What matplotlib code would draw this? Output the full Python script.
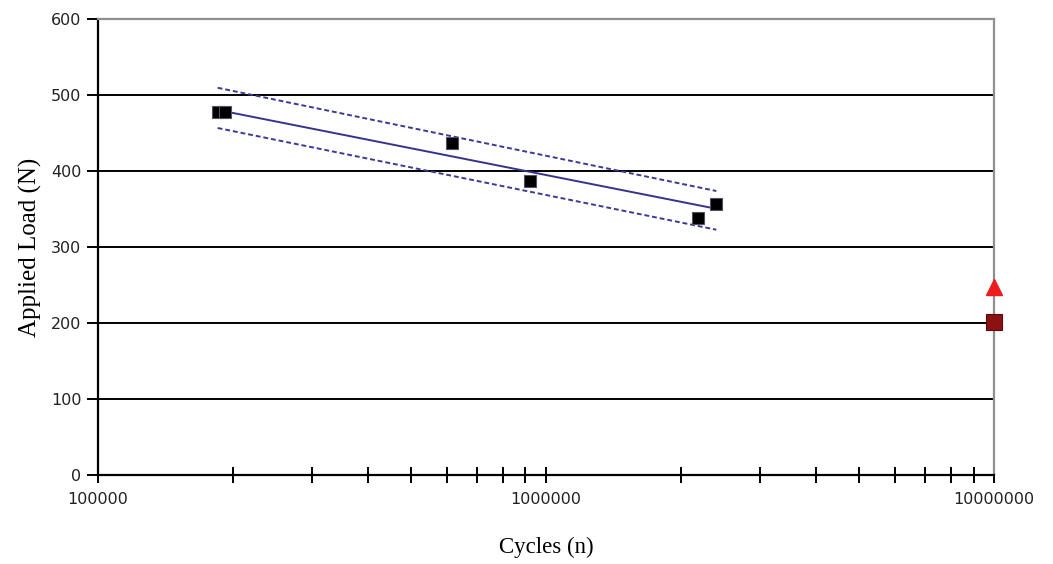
import numpy as np
import matplotlib
matplotlib.use('Agg')
from matplotlib import pyplot as plt
from matplotlib.ticker import FixedLocator, LogLocator, NullFormatter

# test results (cycles to failure, applied load)
cycles = [185000, 192000, 618000, 923000, 2180000, 2400000]
load = [478, 478, 437, 387, 338, 357]

# runouts at 10 million cycles
runout_sq_x = [10000000]
runout_sq_y = [201]
runout_tri_x = [10000000]
runout_tri_y = [248]

# log fit and bounds
fit_x = [188000, 2380000]
fit_y = [480, 351]
band_x = [185000, 2400000]
band_upper = [510, 374]
band_lower = [457, 323]

fig = plt.figure(figsize=(10.53, 5.64), dpi=100)
ax = fig.add_axes([0.093, 0.158, 0.851, 0.8075])

ax.set_xscale('log')
ax.set_xlim(100000, 10000000)
ax.set_ylim(0, 600)

# horizontal grid
for y in [100, 200, 300, 400, 500]:
    ax.axhline(y, color='black', lw=1.4, zorder=1)

ax.plot(fit_x, fit_y, color='#34348c', lw=1.4, zorder=3)
ax.plot(band_x, band_upper, color='#3a3a96', lw=1.4, ls=(0, (2.5, 1.5)), zorder=3)
ax.plot(band_x, band_lower, color='#3a3a96', lw=1.4, ls=(0, (2.5, 1.5)), zorder=3)

ax.plot(cycles, load, ls='none', marker='s', ms=9, mfc='black', mec='#55506a', mew=0.8, zorder=4)
ax.plot(runout_sq_x, runout_sq_y, ls='none', marker='s', ms=11.5, mfc='#8c1212', mec='#5a0a0a', mew=0.8, zorder=5, clip_on=False)
ax.plot(runout_tri_x, runout_tri_y, ls='none', marker='^', ms=12, mfc='#ee1c1c', mec='#ee1c1c', zorder=5, clip_on=False)

for s in ['top', 'right']:
    ax.spines[s].set_color('#909090')
    ax.spines[s].set_linewidth(1.6)
for s in ['left', 'bottom']:
    ax.spines[s].set_color('black')
    ax.spines[s].set_linewidth(1.6)

ax.yaxis.set_major_locator(FixedLocator([0, 100, 200, 300, 400, 500, 600]))
ax.xaxis.set_major_locator(FixedLocator([100000, 1000000, 10000000]))
ax.xaxis.set_minor_locator(LogLocator(base=10, subs=np.arange(2, 10)))
ax.xaxis.set_minor_formatter(NullFormatter())
ax.set_xticklabels(['100000', '1000000', '10000000'])

ax.tick_params(axis='y', direction='out', length=8, width=1.4, labelsize=11.5, pad=4)
ax.tick_params(axis='x', which='both', direction='inout', length=12, width=1.4, labelsize=11.5, pad=6)
ax.tick_params(labelcolor='#222222')

ax.set_ylabel('Applied Load (N)', family='Liberation Serif', fontsize=18, labelpad=6)
ax.set_xlabel('Cycles (n)', family='Liberation Serif', fontsize=16.5, labelpad=22)

fig.savefig('out.png', dpi=100)
